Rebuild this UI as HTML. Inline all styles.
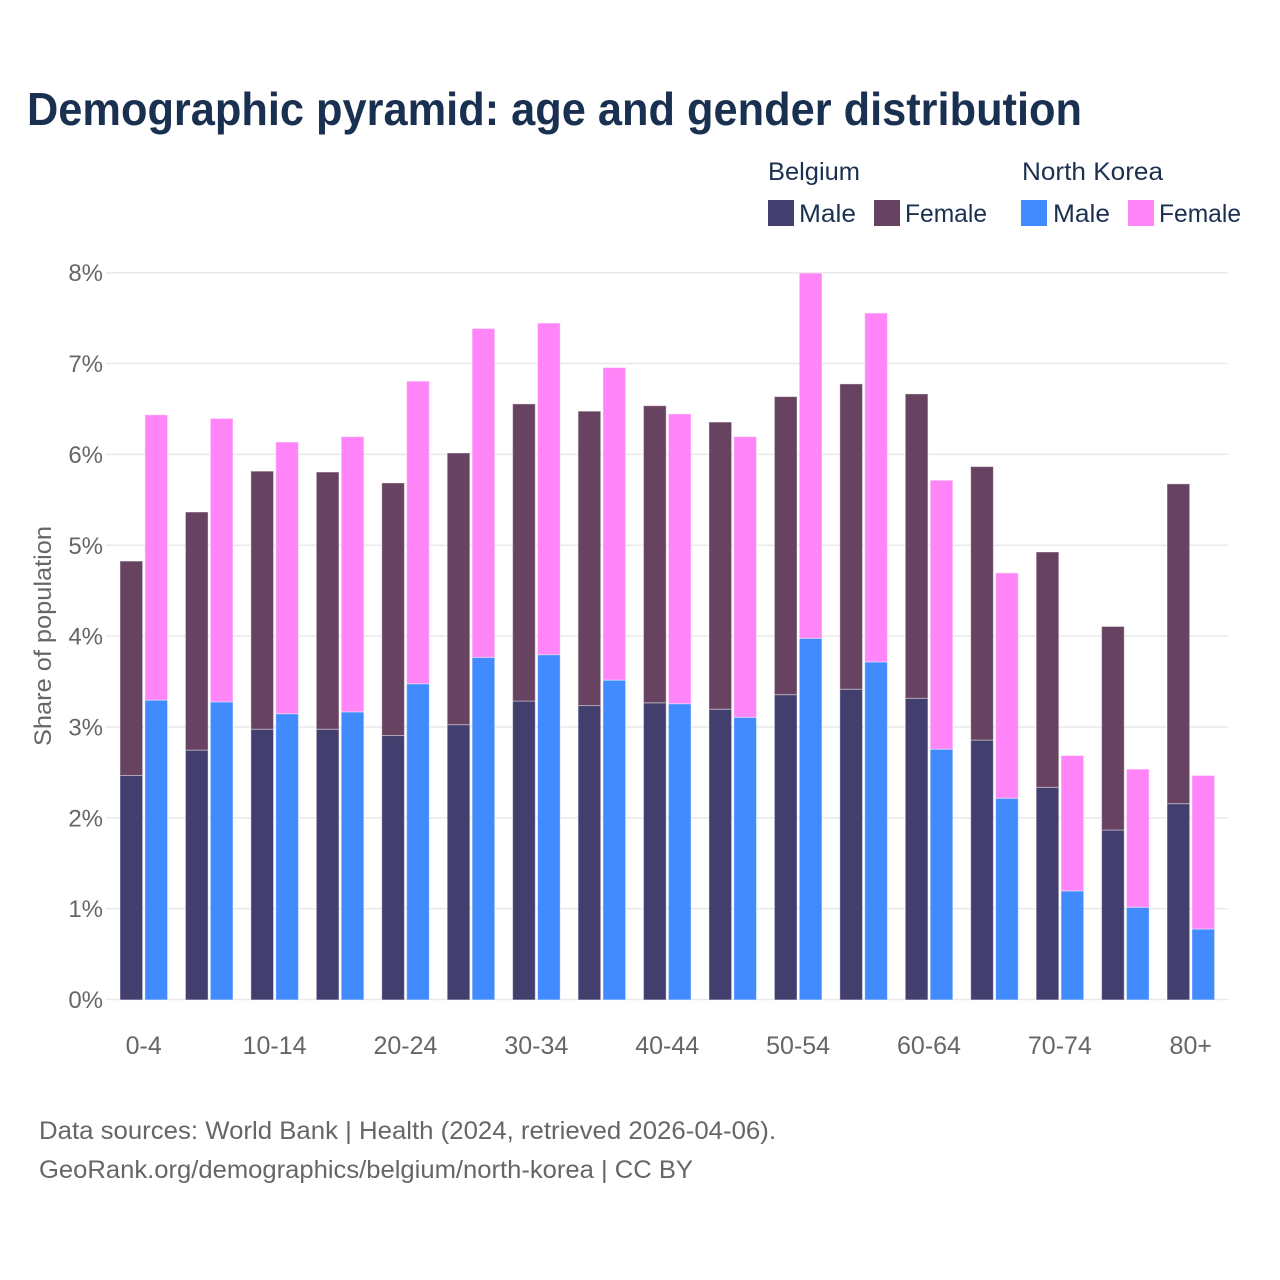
<!DOCTYPE html>
<html lang="en">
<head>
<meta charset="utf-8">
<title>Demographic pyramid: age and gender distribution</title>
<style>
html,body{margin:0;padding:0;background:#fff;width:1280px;height:1280px;overflow:hidden}
svg{display:block}
text{font-family:"Liberation Sans",sans-serif}
</style>
</head>
<body>
<svg id="chart" xmlns="http://www.w3.org/2000/svg" width="1280" height="1280" viewBox="0 0 1280 1280">
  <rect x="0" y="0" width="1280" height="1280" fill="#ffffff"/>
  <text x="27" y="125" font-size="46" font-weight="700" fill="#1a3050" textLength="1055" lengthAdjust="spacingAndGlyphs">Demographic pyramid: age and gender distribution</text>

  <g font-size="25" fill="#1a3050">
    <text x="768" y="180" textLength="92" lengthAdjust="spacingAndGlyphs">Belgium</text>
    <text x="1022" y="180" textLength="141" lengthAdjust="spacingAndGlyphs">North Korea</text>
    <rect x="768" y="200" width="26" height="26" fill="#423f6e"/>
    <text x="799" y="222" textLength="57" lengthAdjust="spacingAndGlyphs">Male</text>
    <rect x="874" y="200" width="26" height="26" fill="#674261"/>
    <text x="905" y="222" textLength="82" lengthAdjust="spacingAndGlyphs">Female</text>
    <rect x="1021" y="200" width="26" height="26" fill="#418bff"/>
    <text x="1053" y="222" textLength="57" lengthAdjust="spacingAndGlyphs">Male</text>
    <rect x="1128" y="200" width="26" height="26" fill="#ff85f8"/>
    <text x="1159" y="222" textLength="82" lengthAdjust="spacingAndGlyphs">Female</text>
  </g>

  <g id="grid"></g>
  <g id="yticks"></g>
  <g id="bars" transform="translate(0,0.4)"></g>
  <g id="xticks"></g>

  <text transform="translate(51,636) rotate(-90)" text-anchor="middle" font-size="24" fill="#666666" textLength="220" lengthAdjust="spacingAndGlyphs">Share of population</text>

  <text x="39" y="1139" font-size="25" fill="#666666" textLength="737" lengthAdjust="spacingAndGlyphs">Data sources: World Bank | Health (2024, retrieved 2026-04-06).</text>
  <text x="39" y="1178" font-size="25" fill="#666666" textLength="654" lengthAdjust="spacingAndGlyphs">GeoRank.org/demographics/belgium/north-korea | CC BY</text>
</svg>
<script>
const categories = ['0-4','5-9','10-14','15-19','20-24','25-29','30-34','35-39','40-44','45-49','50-54','55-59','60-64','65-69','70-74','75-79','80+'];
const xTickLabels = ['0-4','','10-14','','20-24','','30-34','','40-44','','50-54','','60-64','','70-74','','80+'];
const yTicks = [0,1,2,3,4,5,6,7,8];
const belgiumMale = [2.47,2.75,2.98,2.98,2.91,3.03,3.29,3.24,3.27,3.20,3.36,3.42,3.32,2.86,2.34,1.87,2.16];
const belgiumFemale = [2.36,2.62,2.84,2.83,2.78,2.99,3.27,3.24,3.27,3.16,3.28,3.36,3.35,3.01,2.59,2.24,3.52];
const northKoreaMale = [3.30,3.28,3.15,3.17,3.48,3.77,3.80,3.52,3.26,3.11,3.98,3.72,2.76,2.22,1.20,1.02,0.78];
const northKoreaFemale = [3.14,3.12,2.99,3.03,3.33,3.62,3.65,3.44,3.19,3.09,4.02,3.84,2.96,2.48,1.49,1.52,1.69];

const NS = 'http://www.w3.org/2000/svg';
const plotBottom = 999.5, pxPerUnit = 90.85, bandLeft = 111, bandStep = 65.44, barWidth = 22.6;
function yScale(v){ return plotBottom - v * pxPerUnit; }
function xCenter(i){ return bandLeft + bandStep * (i + 0.5); }

const gridG = document.getElementById('grid');
const yTickG = document.getElementById('yticks');
yTicks.forEach(function(t){
  const line = document.createElementNS(NS,'line');
  
  
  line.setAttribute('x1', 106);
  line.setAttribute('x2', 1228);
  line.setAttribute('y1', yScale(t));
  line.setAttribute('y2', yScale(t));
  line.setAttribute('stroke', '#e9e9e9');
  line.setAttribute('stroke-width', 1.5);
  gridG.appendChild(line);
  const label = document.createElementNS(NS,'text');
  
  
  label.setAttribute('x', 103);
  label.setAttribute('y', yScale(t) + 8.5);
  label.setAttribute('text-anchor', 'end');
  label.setAttribute('font-size', 24);
  label.setAttribute('fill', '#666666');
  label.textContent = t + '%';
  yTickG.appendChild(label);
});

const barsG = document.getElementById('bars');
function addBar(i, offset, base, value, color){
  const r = document.createElementNS(NS,'rect');
  
  
  r.setAttribute('x', xCenter(i) + offset);
  r.setAttribute('y', yScale(base + value));
  r.setAttribute('width', barWidth);
  r.setAttribute('height', value * pxPerUnit);
  r.setAttribute('fill', color);
  r.setAttribute('stroke', 'rgba(255,255,255,0.4)');
  r.setAttribute('stroke-width', 1);
  barsG.appendChild(r);
}
categories.forEach(function(c, i){
  addBar(i, -23.7, 0, belgiumMale[i], '#423f6e');
  addBar(i, -23.7, belgiumMale[i], belgiumFemale[i], '#674261');
  addBar(i, 1.2, 0, northKoreaMale[i], '#418bff');
  addBar(i, 1.2, northKoreaMale[i], northKoreaFemale[i], '#ff85f8');
});

const xTickG = document.getElementById('xticks');
xTickLabels.forEach(function(t, i){
  if(!t) return;
  const label = document.createElementNS(NS,'text');
  
  
  label.setAttribute('x', xCenter(i));
  label.setAttribute('y', 1054);
  label.setAttribute('text-anchor', 'middle');
  label.setAttribute('font-size', 25);
  label.setAttribute('fill', '#666666');
  label.textContent = t;
  xTickG.appendChild(label);
});
</script>
</body>
</html>
